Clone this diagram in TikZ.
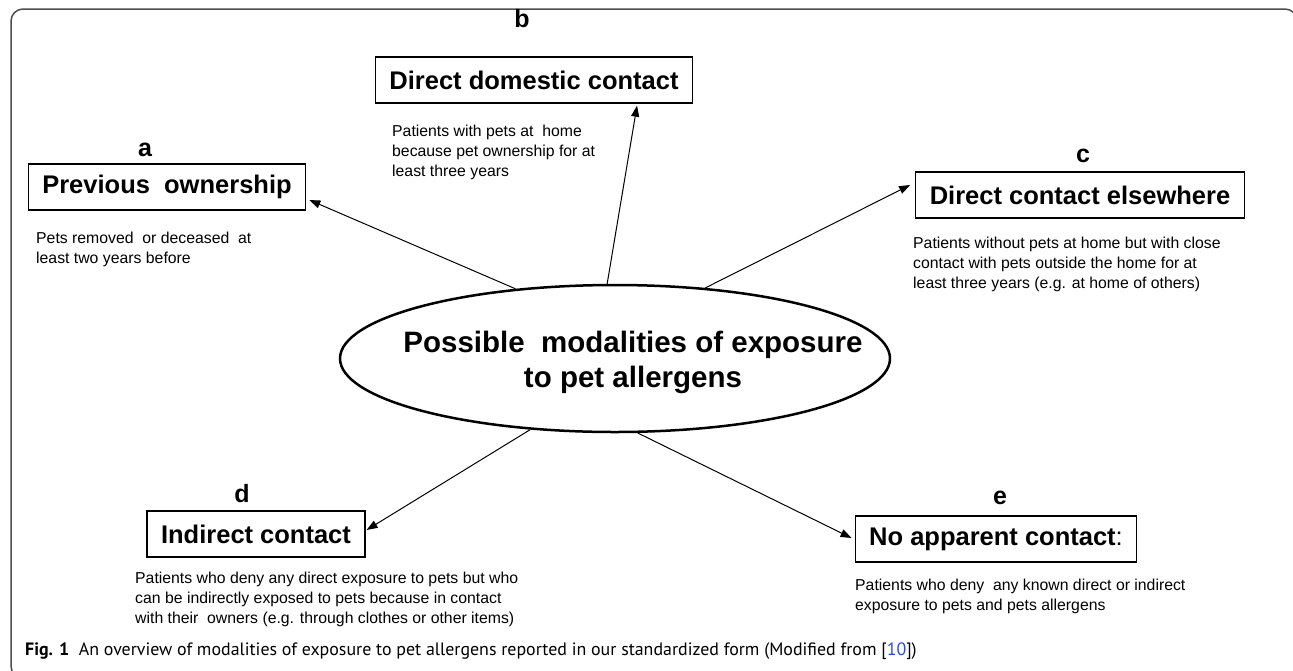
\documentclass[tikz,border=0pt]{standalone}
\usepackage{fontspec}
\setmainfont{Liberation Sans}
\newfontfamily\capfont{PT Sans}
\usetikzlibrary{arrows.meta,shapes.geometric}
\definecolor{framegray}{HTML}{4D4D4D}
\definecolor{linkblue}{HTML}{2B4DD9}
\begin{document}
\begin{tikzpicture}[x=1pt,y=-1pt,
  box/.style={draw, line width=1.3pt, font=\fontsize{25.5}{30}\selectfont\bfseries, inner xsep=14pt, inner ysep=0pt, minimum height=46pt},
  lab/.style={font=\fontsize{25}{30}\selectfont\bfseries, inner sep=0pt, anchor=base},
  desc/.style={font=\fontsize{15.8}{20}\selectfont, align=left, inner sep=0pt, anchor=north west},
  arr/.style={line width=1pt, -{Triangle[length=11pt,width=8pt]}},
]
\useasboundingbox (0,0) rectangle (1293,670);
\begin{scope}
\clip (0,0) rectangle (1293,670);
\draw[framegray, line width=1.5pt, rounded corners=12pt] (11,9) rectangle (1297,678);
\end{scope}

% central ellipse
\node[draw, ellipse, line width=2.5pt, minimum width=550pt, minimum height=147pt, inner sep=0pt] (E) at (615,358.5) {};
\node[font=\fontsize{29.5}{35}\selectfont\bfseries, align=center, inner sep=0pt] (Et) at (633,362) {Possible\ \ modalities of exposure\\to pet allergens};

% boxes
\node[box] (A) at (167,187) {Previous\ \ ownership};
\node[box] (B) at (534,80) {Direct domestic contact};
\node[box] (C) at (1080,195) {Direct contact elsewhere};
\node[box] (D) at (256,534) {Indirect contact};
\node[box] (F) at (996,539) {No apparent contact{\mdseries :}};

% letters
\node[lab] (la) at (145,156.5) {a};
\node[lab] (lb) at (522,27) {b};
\node[lab] (lc) at (1083,162.5) {c};
\node[lab] (ld) at (242,502) {d};
\node[lab] (le) at (1000,504.5) {e};

% descriptions
\node[desc] (da) at (36,232) {Pets removed\ \ or deceased\ \ at\\least two years before};
\node[desc] (db) at (392,125) {Patients with pets at\ \ home\\because pet ownership for at\\least three years};
\node[desc] (dc) at (913,237) {Patients without pets at home but with close\\contact with pets outside the home for at\\least three years (e.g. at home of others)};
\node[desc] (dd) at (135,572) {Patients who deny any direct exposure to pets but who\\can be indirectly exposed to pets because in contact\\with their\ \ owners (e.g. through clothes or other items)};
\node[desc] (de) at (855,579) {Patients who deny\ \ any known direct or indirect\\exposure to pets and pets allergens};

% arrows
\draw[arr] (E.145) -- ([shift={(3,13)}]A.east);
\draw[arr] (E.96) -- ([shift={(103,2)}]B.south);
\draw[arr] (E.38) -- ([shift={(-5,-10)}]C.west);
\draw[arr] (E.220) -- ([shift={(1,-4)}]D.east);
\draw[arr] (E.287) -- ([shift={(-3,-1)}]F.west);

% caption
\node[anchor=base west, inner sep=0pt, font=\capfont\fontsize{17.9}{20}\selectfont] (cap) at (25,655) {\textbf{Fig. 1}\ \ An overview of modalities of exposure to pet allergens reported in our standardized form (Modified from [{\color{linkblue}10}])};
\end{tikzpicture}
\end{document}
